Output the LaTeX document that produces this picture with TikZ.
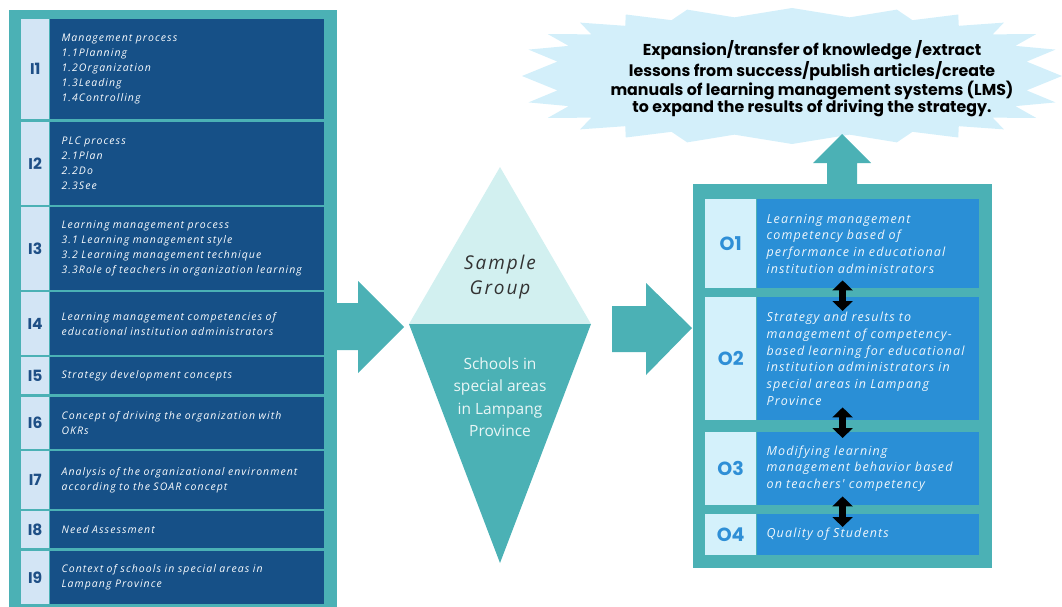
\documentclass[tikz,border=0pt]{standalone}
\usepackage{fontspec}
\usepackage{tikz}
\usetikzlibrary{positioning, calc, arrows.meta}
\setmainfont{Open Sans}
\newfontfamily\bodyfont{Open Sans}[LetterSpace=10]
\newfontfamily\widefont{Open Sans}[LetterSpace=9]
\newfontfamily\headfont{Poppins}

\definecolor{frameteal}{HTML}{4BB1B5}
\definecolor{inbox}{HTML}{165087}
\definecolor{inlab}{HTML}{D3E5F5}
\definecolor{inlabtext}{HTML}{1E4F86}
\definecolor{outbox}{HTML}{2A8FD6}
\definecolor{outlab}{HTML}{D4F1FB}
\definecolor{outlabtext}{HTML}{2F8FD6}
\definecolor{sampletop}{HTML}{D2F0F0}
\definecolor{burstblue}{HTML}{D3EFFA}

\begin{document}
\begin{tikzpicture}[
    x=1pt, y=-1pt,
    declare function={sx(\a)=sign(cos(\a))*pow(max(abs(cos(\a)),0.0001),0.7);
                      sy(\a)=sign(sin(\a))*pow(max(abs(sin(\a)),0.0001),0.7);},
    ilab/.style={anchor=north west, fill=inlab, text=inlabtext, inner sep=0pt,
                 minimum width=28pt, font=\headfont\bfseries\fontsize{15.5}{15.5}\selectfont},
    ibox/.style={fill=inbox, text=white!88!inlab, align=left, inner xsep=12pt, inner ysep=0pt,
                 text width=250pt, font=\bodyfont\itshape\fontsize{10.5}{15}\selectfont},
    olab/.style={anchor=north west, fill=outlab, text=outlabtext, inner sep=0pt,
                 minimum width=51pt, font=\headfont\bfseries\fontsize{19}{19}\selectfont},
    obox/.style={fill=outbox, text=white!92!outbox, align=left, inner xsep=10pt, inner ysep=0pt,
                 text width=202pt, font=\widefont\itshape\fontsize{12.5}{16.7}\selectfont},
    dbl/.style={line width=7pt, {Triangle[width=20pt,length=10pt]}-{Triangle[width=20pt,length=10pt]}},
    blockarrow/.style={fill=frameteal},
]
\useasboundingbox (0,0) rectangle (1062,607);

% frames
\fill[frameteal] (9,10) rectangle (337,607);
\fill[frameteal] (693,184) rectangle (992,568);

% inputs
\node[ilab, minimum height=100pt] (l1) at (21,19) {I1};
\node[ibox, minimum height=100pt, right=0pt of l1] (i1) {Management process\\1.1Planning\\1.2Organization\\1.3Leading\\1.4Controlling};
\node[ilab, minimum height=83pt] (l2) at (21,122) {I2};
\node[ibox, minimum height=83pt, right=0pt of l2] (i2) {PLC process\\2.1Plan\\2.2Do\\2.3See};
\node[ilab, minimum height=83pt] (l3) at (21,207) {I3};
\node[ibox, minimum height=83pt, right=0pt of l3] (i3) {Learning management process\\3.1 Learning management style\\3.2 Learning management technique\\3.3Role of teachers in organization learning};
\node[ilab, minimum height=63pt] (l4) at (21,292) {I4};
\node[ibox, minimum height=63pt, right=0pt of l4] (i4) {Learning management competencies of\\educational institution administrators};
\node[ilab, minimum height=37pt] (l5) at (21,357) {I5};
\node[ibox, minimum height=37pt, right=0pt of l5] (i5) {Strategy development concepts};
\node[ilab, minimum height=52pt] (l6) at (21,397) {I6};
\node[ibox, minimum height=52pt, right=0pt of l6] (i6) {Concept of driving the organization with\\OKRs};
\node[ilab, minimum height=58pt] (l7) at (21,451) {I7};
\node[ibox, minimum height=58pt, right=0pt of l7] (i7) {Analysis of the organizational environment\\according to the SOAR concept};
\node[ilab, minimum height=37pt] (l8) at (21,511) {I8};
\node[ibox, minimum height=37pt, right=0pt of l8] (i8) {Need Assessment};
\node[ilab, minimum height=53pt] (l9) at (21,551) {I9};
\node[ibox, minimum height=53pt, right=0pt of l9] (i9) {Context of schools in special areas in\\Lampang Province};

% arrows into and out of the sample group
\fill[blockarrow] (337,303) -- (358,303) -- (358,281) -- (404,327) -- (358,373) -- (358,350) -- (337,350) -- cycle;
\fill[blockarrow] (612,306) -- (646,306) -- (646,283) -- (692,328) -- (646,375) -- (646,352) -- (612,352) -- cycle;

% sample group
\fill[sampletop] (500,167) -- (591,324) -- (409,324) -- cycle;
\fill[frameteal] (409,324) -- (591,324) -- (500,563) -- cycle;
\node[font=\bodyfont\itshape\fontsize{19}{25}\selectfont, text=black!80, align=center] (sample) at (500,277) {Sample\\Group};
\node[font=\fontsize{15.5}{22.5}\selectfont, text=white!88!frameteal, align=center] (schools) at (500,397) {Schools in\\special areas\\in Lampang\\Province};

% outputs
\node[olab, minimum height=89pt] (m1) at (705,199) {O1};
\node[obox, minimum height=89pt, right=0pt of m1] (o1) {Learning management\\competency based of\\performance in educational\\institution administrators};
\node[olab, minimum height=123pt] (m2) at (705,297) {O2};
\node[obox, minimum height=123pt, right=0pt of m2] (o2) {Strategy and results to\\management of competency-\\based learning for educational\\institution administrators in\\special areas in Lampang\\Province};
\node[olab, minimum height=73pt] (m3) at (705,432) {O3};
\node[obox, minimum height=73pt, right=0pt of m3] (o3) {Modifying learning\\management behavior based\\on teachers' competency};
\node[olab, minimum height=41pt] (m4) at (705,514) {O4};
\node[obox, minimum height=41pt, right=0pt of m4] (o4) {Quality of Students};

\draw[dbl] ([xshift=-25pt,yshift=8pt]o1.south) -- ([xshift=-25pt,yshift=-14pt]o2.north);
\draw[dbl] ([xshift=-25pt,yshift=13pt]o2.south) -- ([xshift=-25pt,yshift=-6pt]o3.north);
\draw[dbl] ([xshift=-25pt,yshift=9pt]o3.south) -- ([xshift=-25pt,yshift=-13pt]o4.north);

% expansion burst
\fill[burstblue] ({792+270*sx(0)},{76+68*sy(0)})
    \foreach \a in {0,15,...,345}{
        -- ({792+236*sx(\a+7.5)},{76+59*sy(\a+7.5)})
        -- ({792+270*sx(\a+15)},{76+68*sy(\a+15)})
    } -- cycle;
\node[font=\headfont\bfseries\fontsize{15.8}{17.3}\selectfont, align=center] (expand) at (812,79)
    {Expansion/transfer of knowledge /extract\\lessons from success/publish articles/create\\manuals of learning management systems (LMS)\\to expand the results of driving the strategy.};
\fill[blockarrow] (827,184) -- (827,163) -- (813,163) -- (842,134) -- (871,163) -- (857,163) -- (857,184) -- cycle;

\end{tikzpicture}
\end{document}
